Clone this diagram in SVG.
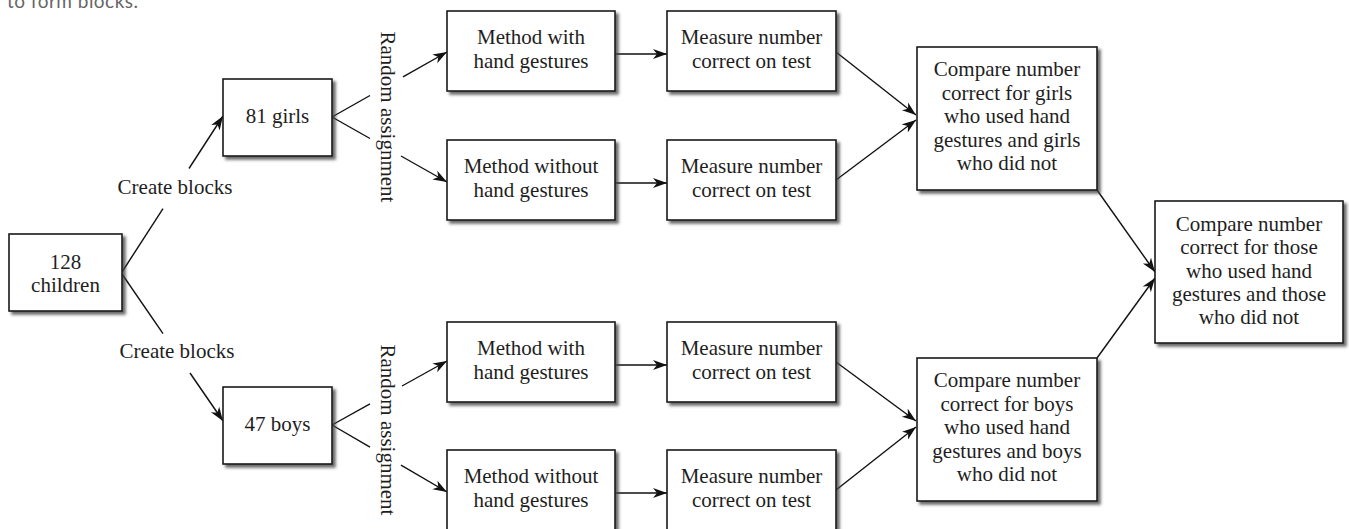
<svg xmlns="http://www.w3.org/2000/svg" width="1349" height="529" viewBox="0 0 1349 529">
<style>
  .box { fill: #ffffff; stroke: #1a1a1a; stroke-width: 1.6; filter: url(#shadow); }
  .t { font-family: "Liberation Serif", "Times New Roman", serif; font-size: 21px; fill: #1e1e1e; text-anchor: middle; }
  .ln { fill: none; stroke: #111111; stroke-width: 1.4; }
  .ar { marker-end: url(#arrow); }
  .cap { font-family: Lato, "Open Sans", sans-serif; font-size: 19px; fill: #666666; }
</style>
<defs>
  <filter id="shadow" x="-10%" y="-10%" width="130%" height="130%">
    <feDropShadow dx="3" dy="3" stdDeviation="1.5" flood-color="#444444" flood-opacity="0.8"/>
  </filter>
  <marker id="arrow" markerUnits="userSpaceOnUse" markerWidth="16" markerHeight="12" refX="14" refY="5.5" orient="auto">
    <path d="M0,0.5 L14,5.5 L0,10.5 L4,5.5 Z" fill="#111111"/>
  </marker>
</defs>
<rect width="1349" height="529" fill="#ffffff"/>

<text class="cap" x="7" y="8" textLength="131">to form blocks.</text>

<g id="connectors">
  <!-- create blocks -->
  <line class="ln" x1="122" y1="272" x2="163" y2="208.7"/>
  <line class="ln ar" x1="189" y1="168.5" x2="223" y2="116"/>
  <line class="ln" x1="122" y1="274" x2="163" y2="333.7"/>
  <line class="ln ar" x1="190" y1="373" x2="223" y2="421"/>
  <!-- random assignment girls -->
  <line class="ln" x1="332" y1="117" x2="370" y2="95.5"/>
  <line class="ln ar" x1="403" y1="76.9" x2="447" y2="52"/>
  <line class="ln" x1="332" y1="117" x2="370" y2="138.5"/>
  <line class="ln ar" x1="401" y1="156" x2="447" y2="182"/>
  <!-- random assignment boys -->
  <line class="ln" x1="332" y1="425" x2="370" y2="403.9"/>
  <line class="ln ar" x1="402" y1="386" x2="447" y2="361"/>
  <line class="ln" x1="332" y1="425" x2="370" y2="447.1"/>
  <line class="ln ar" x1="401" y1="465.2" x2="447" y2="492"/>
  <!-- method to measure -->
  <line class="ln ar" x1="615" y1="54" x2="667" y2="54"/>
  <line class="ln ar" x1="615" y1="183" x2="667" y2="183"/>
  <line class="ln ar" x1="615" y1="365" x2="667" y2="365"/>
  <line class="ln ar" x1="615" y1="493" x2="667" y2="493"/>
  <!-- measure to compare -->
  <line class="ln ar" x1="836" y1="52" x2="916" y2="115"/>
  <line class="ln ar" x1="836" y1="180" x2="916" y2="120"/>
  <line class="ln ar" x1="836" y1="362" x2="916" y2="421"/>
  <line class="ln ar" x1="836" y1="490" x2="916" y2="427"/>
  <!-- compare to final -->
  <line class="ln ar" x1="1097" y1="190" x2="1155" y2="272"/>
  <line class="ln ar" x1="1097" y1="358" x2="1155" y2="278"/>
</g>

<g id="children">
  <rect class="box" x="9" y="234" width="113" height="77"/>
  <text class="t" x="65.5" y="269">128</text>
  <text class="t" x="65.5" y="292">children</text>
</g>

<g id="label-create-top">
  <text class="t" x="175" y="194">Create blocks</text>
</g>
<g id="label-create-bottom">
  <text class="t" x="177" y="358">Create blocks</text>
</g>

<g id="girls">
  <rect class="box" x="223" y="79" width="109" height="77"/>
  <text class="t" x="277.5" y="123">81 girls</text>
</g>
<g id="boys">
  <rect class="box" x="223" y="387" width="109" height="77"/>
  <text class="t" x="277.5" y="431">47 boys</text>
</g>

<g id="label-random-top">
  <text class="t" transform="translate(381,117) rotate(90)">Random assignment</text>
</g>
<g id="label-random-bottom">
  <text class="t" transform="translate(381,430) rotate(90)">Random assignment</text>
</g>

<g id="method-with-girls">
  <rect class="box" x="447" y="11" width="168" height="80"/>
  <text class="t" x="531" y="44">Method with</text>
  <text class="t" x="531" y="68">hand gestures</text>
</g>
<g id="method-without-girls">
  <rect class="box" x="447" y="140" width="168" height="80"/>
  <text class="t" x="531" y="173">Method without</text>
  <text class="t" x="531" y="197">hand gestures</text>
</g>
<g id="method-with-boys">
  <rect class="box" x="447" y="322" width="168" height="80"/>
  <text class="t" x="531" y="355">Method with</text>
  <text class="t" x="531" y="379">hand gestures</text>
</g>
<g id="method-without-boys">
  <rect class="box" x="447" y="450" width="168" height="80"/>
  <text class="t" x="531" y="483">Method without</text>
  <text class="t" x="531" y="507">hand gestures</text>
</g>

<g id="measure-1">
  <rect class="box" x="667" y="11" width="169" height="80"/>
  <text class="t" x="751.5" y="44">Measure number</text>
  <text class="t" x="751.5" y="68">correct on test</text>
</g>
<g id="measure-2">
  <rect class="box" x="667" y="140" width="169" height="80"/>
  <text class="t" x="751.5" y="173">Measure number</text>
  <text class="t" x="751.5" y="197">correct on test</text>
</g>
<g id="measure-3">
  <rect class="box" x="667" y="322" width="169" height="80"/>
  <text class="t" x="751.5" y="355">Measure number</text>
  <text class="t" x="751.5" y="379">correct on test</text>
</g>
<g id="measure-4">
  <rect class="box" x="667" y="450" width="169" height="80"/>
  <text class="t" x="751.5" y="483">Measure number</text>
  <text class="t" x="751.5" y="507">correct on test</text>
</g>

<g id="compare-girls">
  <rect class="box" x="917" y="47" width="180" height="143"/>
  <text class="t" x="1007" y="76">Compare number</text>
  <text class="t" x="1007" y="99.5">correct for girls</text>
  <text class="t" x="1007" y="123">who used hand</text>
  <text class="t" x="1007" y="146.5">gestures and girls</text>
  <text class="t" x="1007" y="170">who did not</text>
</g>
<g id="compare-boys">
  <rect class="box" x="917" y="358" width="180" height="143"/>
  <text class="t" x="1007" y="387">Compare number</text>
  <text class="t" x="1007" y="410.5">correct for boys</text>
  <text class="t" x="1007" y="434">who used hand</text>
  <text class="t" x="1007" y="457.5">gestures and boys</text>
  <text class="t" x="1007" y="481">who did not</text>
</g>
<g id="compare-all">
  <rect class="box" x="1155" y="201" width="188" height="142"/>
  <text class="t" x="1249" y="231">Compare number</text>
  <text class="t" x="1249" y="254">correct for those</text>
  <text class="t" x="1249" y="277.5">who used hand</text>
  <text class="t" x="1249" y="300.5">gestures and those</text>
  <text class="t" x="1249" y="323.5">who did not</text>
</g>
</svg>
